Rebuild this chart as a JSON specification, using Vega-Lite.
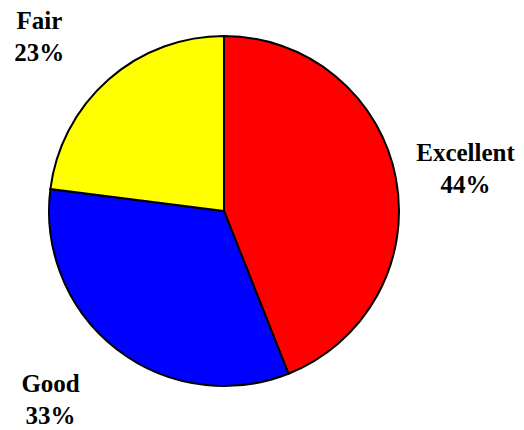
{
  "$schema": "https://vega.github.io/schema/vega-lite/v6.json",
  "autosize": "none",
  "width": 448,
  "height": 422,
  "padding": {"left": 0, "top": 0, "right": 76, "bottom": 8},
  "background": "white",
  "config": {"view": {"stroke": null}, "text": {"font": "Liberation Serif, Times New Roman, serif"}},
  "data": {
    "values": [
      {"category": "Excellent", "value": 44, "order": 1, "label": "Excellent\n44%"},
      {"category": "Good", "value": 33, "order": 2, "label": "Good\n33%"},
      {"category": "Fair", "value": 23, "order": 3, "label": "Fair\n23%"}
    ]
  },
  "encoding": {
    "theta": {"field": "value", "type": "quantitative", "stack": true},
    "order": {"field": "order", "type": "quantitative"}
  },
  "layer": [
    {
      "mark": {"type": "arc", "outerRadius": 175, "stroke": "black", "strokeWidth": 2},
      "encoding": {
        "color": {
          "field": "category",
          "type": "nominal",
          "scale": {"domain": ["Excellent", "Good", "Fair"], "range": ["#FF0000", "#0000FF", "#FFFF00"]},
          "legend": null
        }
      }
    },
    {
      "mark": {"type": "text", "radius": 252, "dx": -6, "dy": -11, "font": "Liberation Serif, Times New Roman, serif", "fontWeight": "bold", "fontSize": 25, "lineHeight": 32, "lineBreak": "\n", "align": "center", "baseline": "middle", "color": "black"},
      "encoding": {"text": {"condition": {"test": "datum.category === 'Excellent'", "field": "label", "type": "nominal"}, "value": ""}}
    },
    {
      "mark": {"type": "text", "radius": 252, "dx": -19, "dy": -26, "font": "Liberation Serif, Times New Roman, serif", "fontWeight": "bold", "fontSize": 25, "lineHeight": 32, "lineBreak": "\n", "align": "center", "baseline": "middle", "color": "black"},
      "encoding": {"text": {"condition": {"test": "datum.category === 'Good'", "field": "label", "type": "nominal"}, "value": ""}}
    },
    {
      "mark": {"type": "text", "radius": 252, "dx": -18, "dy": -1, "font": "Liberation Serif, Times New Roman, serif", "fontWeight": "bold", "fontSize": 25, "lineHeight": 32, "lineBreak": "\n", "align": "center", "baseline": "middle", "color": "black"},
      "encoding": {"text": {"condition": {"test": "datum.category === 'Fair'", "field": "label", "type": "nominal"}, "value": ""}}
    }
  ]
}
